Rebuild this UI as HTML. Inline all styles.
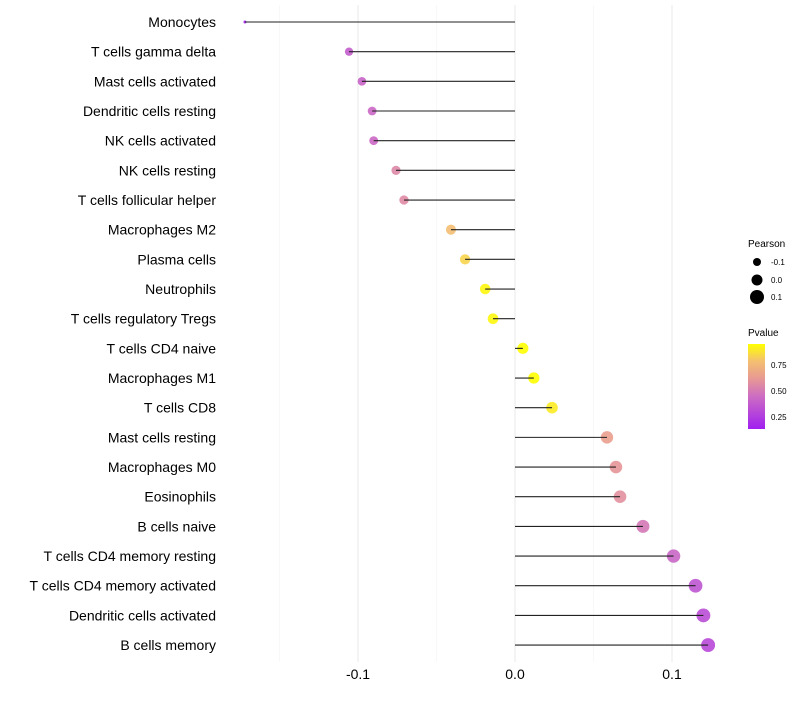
<!DOCTYPE html>
<html><head><meta charset="utf-8"><style>
body{margin:0;background:#fff;font-family:"Liberation Sans",sans-serif;}
</style></head><body>
<svg id="chart" width="800" height="700" xmlns="http://www.w3.org/2000/svg" font-family="Liberation Sans, sans-serif">
<defs><linearGradient id="pg" x1="0" y1="1" x2="0" y2="0">
<stop offset="0" stop-color="#a020f0"/><stop offset="0.4" stop-color="#cf70c0"/><stop offset="0.6" stop-color="#e89a92"/><stop offset="0.8" stop-color="#f4c070"/><stop offset="1" stop-color="#ffff00"/></linearGradient></defs>
<g id="grid"></g><g id="dots"></g><g id="stems"></g><g id="labels"></g>
<g>
<text x="748" y="247" font-size="10" fill="#000">Pearson</text>
<circle cx="757" cy="262" r="4" fill="#000"/><text x="771" y="265" font-size="8">-0.1</text>
<circle cx="757" cy="280" r="5.5" fill="#000"/><text x="771" y="283" font-size="8">0.0</text>
<circle cx="757" cy="297" r="7" fill="#000"/><text x="771" y="300" font-size="8">0.1</text>
<text x="748" y="336" font-size="10" fill="#000">Pvalue</text>
<rect x="748" y="344" width="17" height="85" fill="url(#pg)"/>
<text x="771" y="368" font-size="8">0.75</text>
<text x="771" y="394" font-size="8">0.50</text>
<text x="771" y="420" font-size="8">0.25</text>
</g>
</svg>
<script>
const categories=["Monocytes","T cells gamma delta","Mast cells activated","Dendritic cells resting","NK cells activated","NK cells resting","T cells follicular helper","Macrophages M2","Plasma cells","Neutrophils","T cells regulatory  Tregs ","T cells CD4 naive","Macrophages M1","T cells CD8","Mast cells resting","Macrophages M0","Eosinophils","B cells naive","T cells CD4 memory resting","T cells CD4 memory activated","Dendritic cells activated","B cells memory"];
const pearson=[-0.172,-0.1057,-0.0975,-0.091,-0.090,-0.0758,-0.0707,-0.0408,-0.0318,-0.019,-0.014,0.005,0.012,0.0236,0.0586,0.0643,0.0669,0.0815,0.101,0.115,0.120,0.123];
const pvalue=[0.14,0.38,0.41,0.43,0.43,0.55,0.56,0.77,0.83,0.92,0.92,0.98,0.96,0.89,0.64,0.6,0.58,0.49,0.42,0.35,0.32,0.3];
const ticks=[-0.1,0.0,0.1];
const tickLabels=["-0.1","0.0","0.1"];
const NS="http://www.w3.org/2000/svg";
const xs=v=>515+v*1570;
const ys=i=>22+i*29.67;
const stops=[[0,[160,32,240]],[0.4,[207,112,192]],[0.6,[232,154,146]],[0.8,[244,192,112]],[1,[255,255,0]]];
function col(p){const t=Math.max(0,Math.min(1,(p-0.14)/0.8));
for(let k=1;k<stops.length;k++){if(t<=stops[k][0]){const a=stops[k-1],b=stops[k];const u=(t-a[0])/(b[0]-a[0]);
return 'rgb('+a[1].map((c,j)=>Math.round(c+(b[1][j]-c)*u)).join(',')+')';}}return 'rgb(255,255,0)';}
function rad(v){return Math.max(1.5,Math.min(5.5+12*v,1.5+(v+0.172)*40));}
function mk(tag,at,parent){const e=document.createElementNS(NS,tag);for(const k in at)e.setAttribute(k,at[k]);parent.appendChild(e);return e;}
const grid=document.getElementById('grid'),dots=document.getElementById('dots'),stems=document.getElementById('stems'),labels=document.getElementById('labels');
[-0.15,-0.05,0.05].forEach(v=>{const l=mk('line',{x1:xs(v),x2:xs(v),y1:5,y2:662,stroke:'#f4f4f4','stroke-width':0.6},grid);

});
ticks.forEach((v,i)=>{const l=mk('line',{x1:xs(v),x2:xs(v),y1:5,y2:662,stroke:'#ebebeb','stroke-width':1.1},grid);


const t=mk('text',{x:xs(v),y:679,'font-size':14,'text-anchor':'middle',fill:'#000'},labels);t.textContent=tickLabels[i];

});
categories.forEach((c,i)=>{const y=ys(i);
const t=mk('text',{x:216,y:y+5,'font-size':14,'text-anchor':'end',fill:'#000'},labels);t.textContent=c;


const d=mk('circle',{cx:xs(pearson[i]),cy:y,r:rad(pearson[i]),fill:col(pvalue[i]),'fill-opacity':0.9},dots);


const l=mk('line',{x1:xs(0),x2:xs(pearson[i]),y1:y,y2:y,stroke:'#222','stroke-width':1.1},stems);

});
</script>
</body></html>
